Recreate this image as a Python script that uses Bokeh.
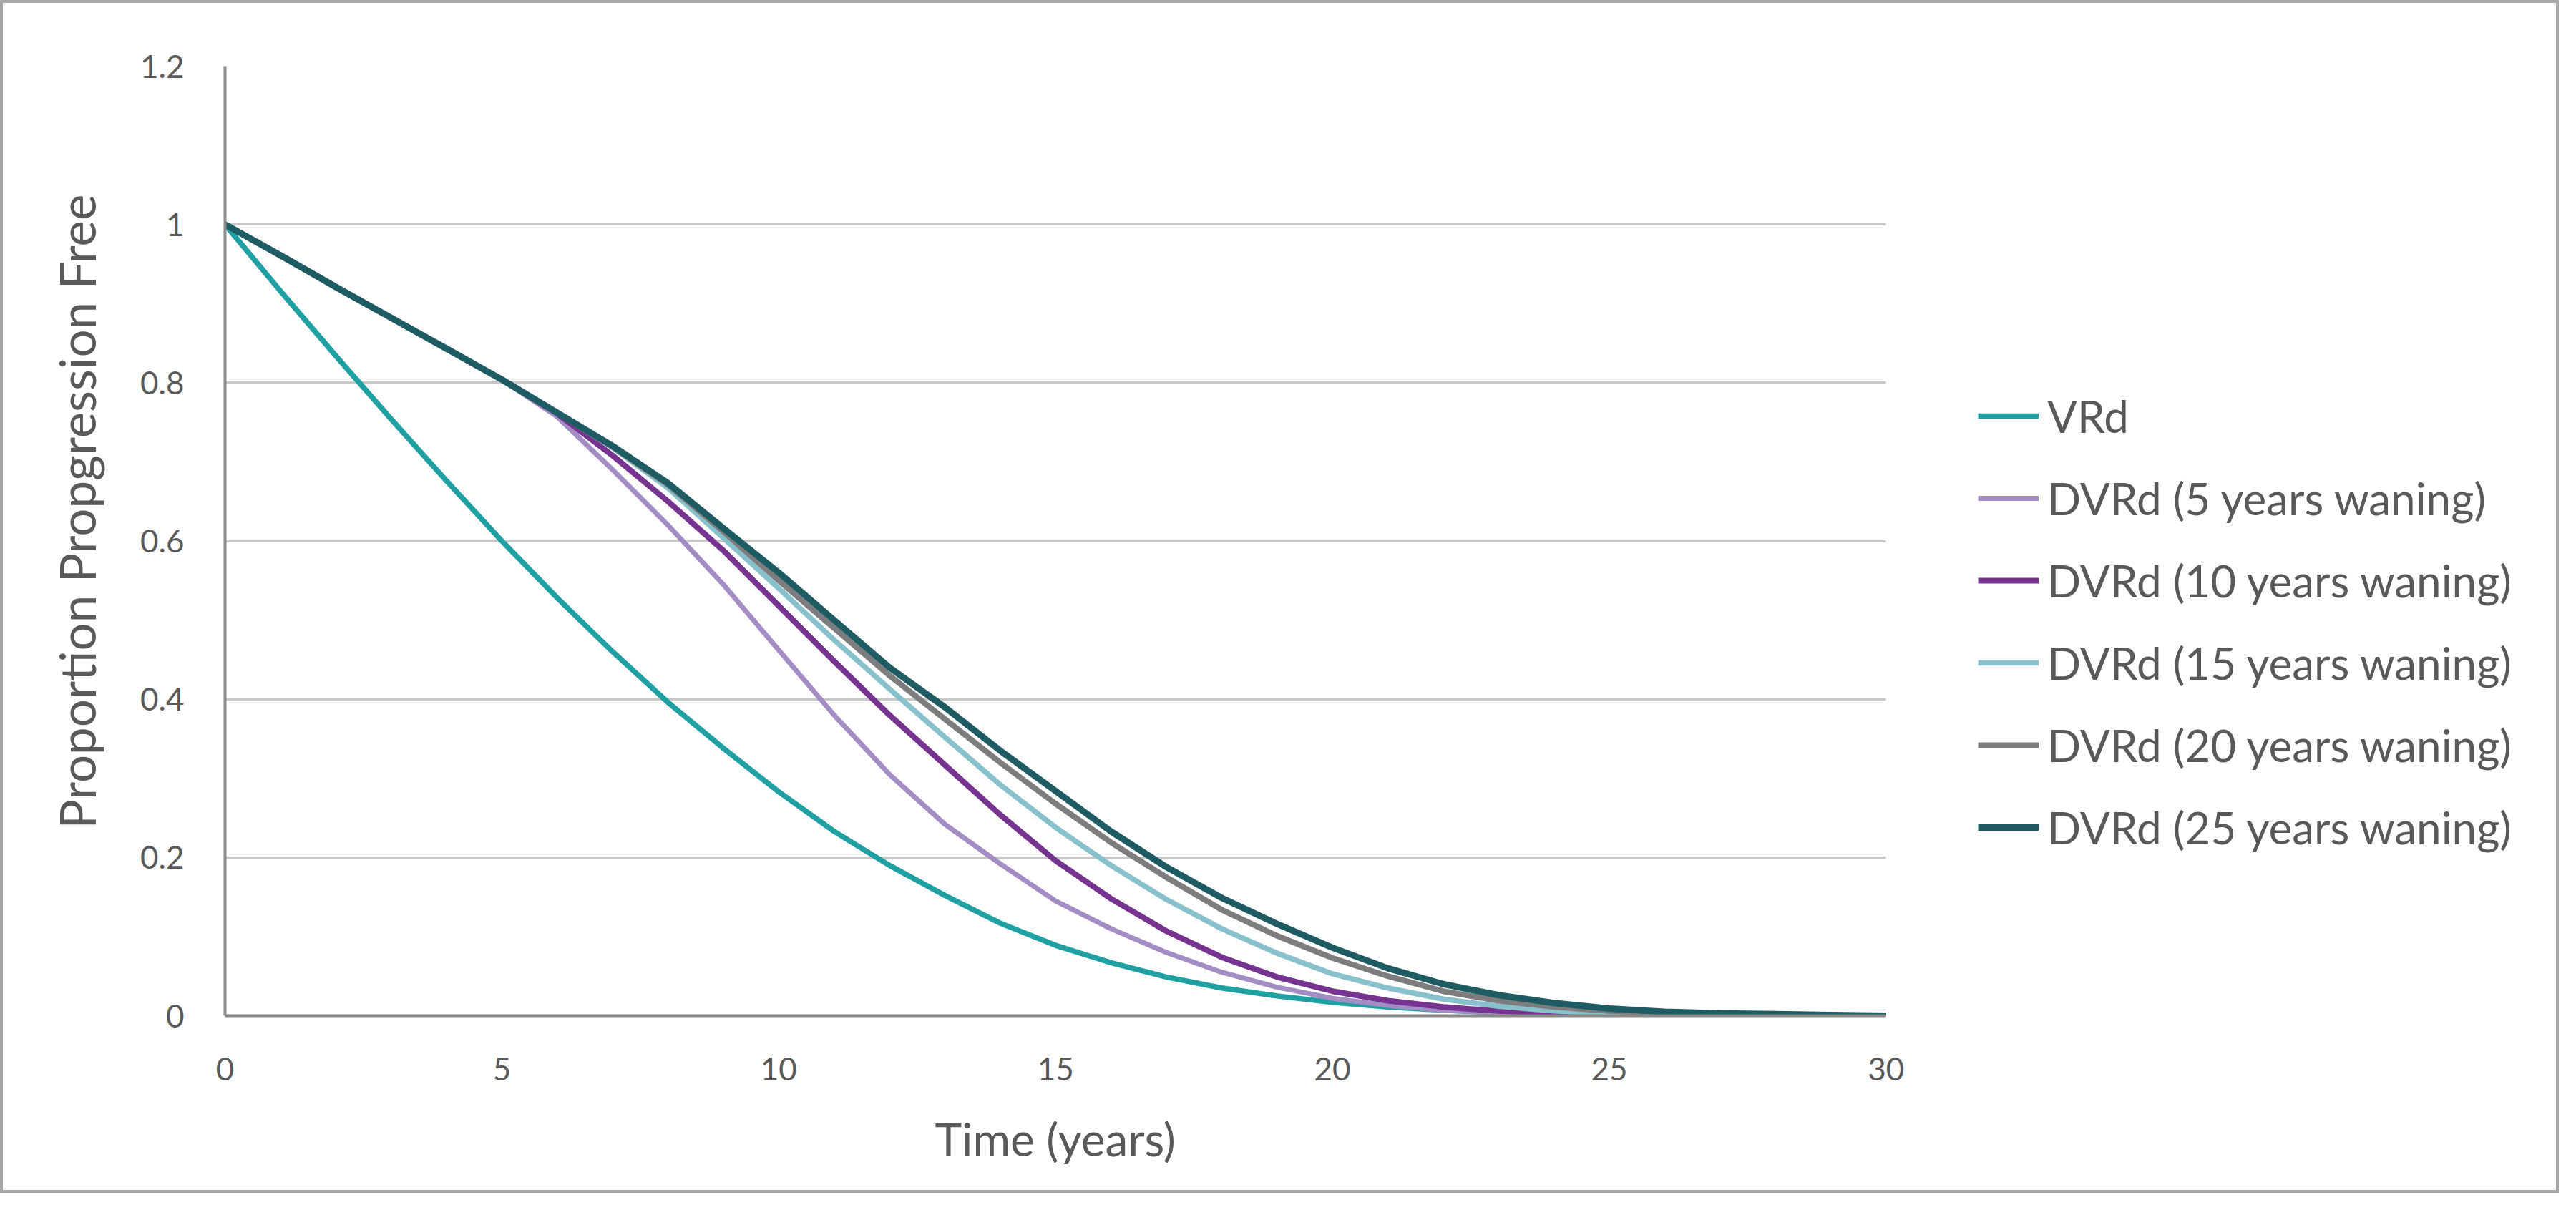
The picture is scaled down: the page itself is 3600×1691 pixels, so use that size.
from bokeh.plotting import figure
from bokeh.models import Legend, LegendItem, FixedTicker, ColumnDataSource, Title
from bokeh.embed import file_html
from bokeh.resources import INLINE

# ---- data ----
years = list(range(0, 31))

vrd = [1.000, 0.916, 0.834, 0.754, 0.676, 0.600, 0.528, 0.460, 0.396, 0.338, 0.283,
       0.233, 0.190, 0.152, 0.117, 0.089, 0.067, 0.049, 0.035, 0.025, 0.017,
       0.011, 0.007, 0.004, 0.003, 0.002, 0.001, 0.000, 0.000, 0.000, 0.000]

dvrd_5 = [1.000, 0.961, 0.921, 0.882, 0.843, 0.804, 0.757, 0.690, 0.620, 0.545, 0.462,
          0.380, 0.305, 0.242, 0.192, 0.145, 0.110, 0.080, 0.055, 0.036, 0.022,
          0.013, 0.007, 0.004, 0.002, 0.001, 0.000, 0.000, 0.000, 0.000, 0.000]

dvrd_10 = [1.000, 0.961, 0.921, 0.882, 0.843, 0.804, 0.761, 0.708, 0.650, 0.588, 0.518,
           0.448, 0.380, 0.317, 0.254, 0.196, 0.148, 0.107, 0.074, 0.049, 0.031,
           0.019, 0.011, 0.006, 0.003, 0.001, 0.000, 0.000, 0.000, 0.000, 0.000]

dvrd_15 = [1.000, 0.961, 0.921, 0.882, 0.843, 0.804, 0.762, 0.718, 0.667, 0.604, 0.540,
           0.475, 0.413, 0.352, 0.292, 0.238, 0.190, 0.147, 0.110, 0.079, 0.053,
           0.035, 0.021, 0.012, 0.006, 0.003, 0.001, 0.000, 0.000, 0.000, 0.000]

dvrd_20 = [1.000, 0.961, 0.921, 0.882, 0.843, 0.804, 0.762, 0.719, 0.671, 0.612, 0.550,
           0.490, 0.430, 0.375, 0.320, 0.268, 0.219, 0.175, 0.134, 0.101, 0.073,
           0.050, 0.031, 0.019, 0.011, 0.006, 0.003, 0.001, 0.000, 0.000, 0.000]

dvrd_25 = [1.000, 0.961, 0.921, 0.882, 0.843, 0.804, 0.762, 0.720, 0.673, 0.616, 0.560,
           0.500, 0.440, 0.390, 0.335, 0.284, 0.233, 0.188, 0.149, 0.116, 0.086,
           0.060, 0.040, 0.026, 0.016, 0.009, 0.005, 0.003, 0.002, 0.001, 0.000]

series_names = ["VRd", "DVRd (5 years waning)", "DVRd (10 years waning)",
                "DVRd (15 years waning)", "DVRd (20 years waning)", "DVRd (25 years waning)"]
series_values = [vrd, dvrd_5, dvrd_10, dvrd_15, dvrd_20, dvrd_25]
line_colors = ["#21a0a4", "#a48dc5", "#76338f", "#88c1cb", "#7d7d7f", "#1f5b63"]
line_widths = [7.5, 7, 8, 7.5, 8, 9]

x_ticks = [0, 5, 10, 15, 20, 25, 30]
y_ticks = [0, 0.2, 0.4, 0.6, 0.8, 1.0, 1.2]
y_tick_labels = ["0", "0.2", "0.4", "0.6", "0.8", "1", "1.2"]
x_title = "Time (years)"
y_title = "Proportion Propgression Free"

X_MIN, X_MAX = 0, 30
# the plotting frame is widened to the right so the key can sit beside the axes
X_VIEW_END = 41.95

FONT = "Lato"
TEXT = "#595959"

p = figure(width=3576, height=1667, x_range=(X_MIN, X_VIEW_END), y_range=(0, 1.2),
           output_backend="svg", toolbar_location=None,
           min_border_left=310, min_border_right=20,
           min_border_top=88, min_border_bottom=252)
p.styles = {"border": "4px solid #a7a7a7"}
p.background_fill_color = "white"
p.border_fill_color = "white"
p.outline_line_color = None

# axes
p.xaxis.ticker = FixedTicker(ticks=x_ticks)
p.xaxis.bounds = (X_MIN, X_MAX)
p.yaxis.ticker = FixedTicker(ticks=y_ticks)
p.yaxis.major_label_overrides = {t: l for t, l in zip(y_ticks, y_tick_labels)}
for ax in (p.xaxis, p.yaxis):
    ax.major_tick_line_color = None
    ax.minor_tick_line_color = None
    ax.major_label_text_font = FONT
    ax.major_label_text_font_size = "44px"
    ax.major_label_text_color = TEXT
    ax.axis_line_color = "#8a8a8a"
    ax.axis_line_width = 4
p.xaxis.major_label_standoff = 52
p.yaxis.major_label_standoff = 51

# axis titles (placed as titles so they can be positioned like the reference)
p.add_layout(Title(text=x_title, align="left", offset=992, standoff=76,
                   text_font=FONT, text_font_size="64px", text_font_style="normal",
                   text_color=TEXT), "below")
p.add_layout(Title(text=y_title, align="left", offset=261, standoff=90,
                   text_font=FONT, text_font_size="69px", text_font_style="normal",
                   text_color=TEXT), "left")

p.xgrid.grid_line_color = None
yg = p.ygrid[0]
if "cross_bounds" in yg.properties():
    yg.ticker = FixedTicker(ticks=y_ticks)
    yg.cross_bounds = (X_MIN, X_MAX)
    yg.grid_line_color = "#c8c8c8"
    yg.grid_line_width = 3
else:
    yg.grid_line_color = None
    p.segment(x0=[X_MIN] * len(y_ticks), x1=[X_MAX] * len(y_ticks), y0=y_ticks, y1=y_ticks,
              line_color="#c8c8c8", line_width=3, level="underlay")

# curves
items = []
for name, vals, col, lw in zip(series_names, series_values, line_colors, line_widths):
    src = ColumnDataSource(dict(x=years, y=vals))
    r = p.line("x", "y", source=src, line_color=col, line_width=lw, line_join="round")
    items.append(LegendItem(label=name, renderers=[r]))

legend = Legend(items=items, location=(2450, 226), orientation="vertical",
                label_text_font=FONT, label_text_font_size="62px",
                label_text_color=TEXT, glyph_width=85, glyph_height=70,
                label_height=70, label_standoff=12, spacing=41,
                padding=0, margin=0, border_line_color=None,
                background_fill_alpha=0)
p.add_layout(legend)

open("out.html", "w").write(file_html(p, INLINE))
